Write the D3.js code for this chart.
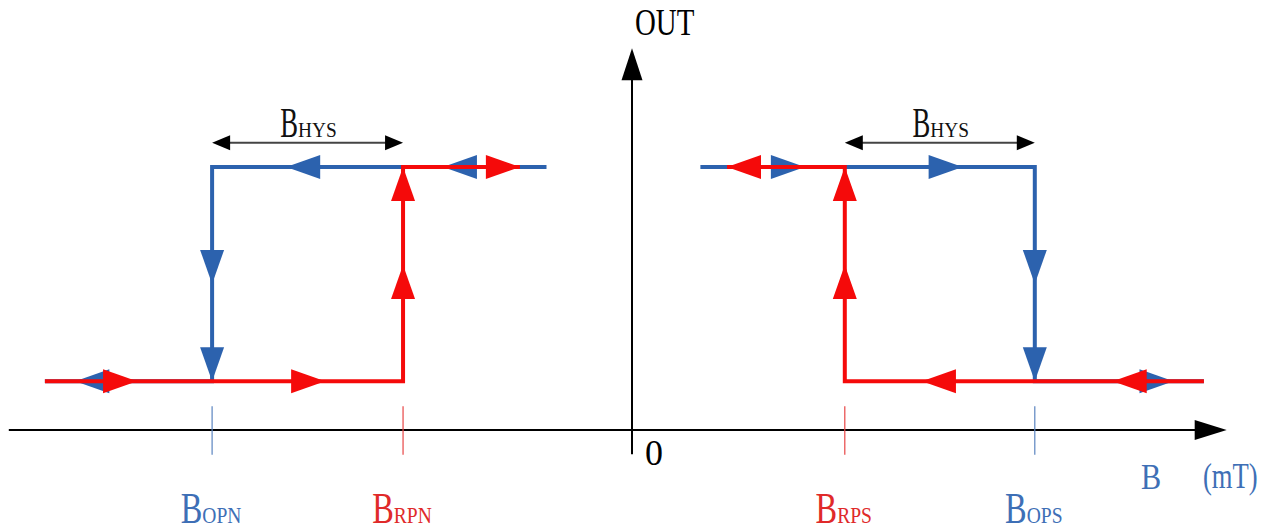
<!DOCTYPE html>
<html>
<head>
<meta charset="utf-8">
<script src="https://cdn.jsdelivr.net/npm/d3@7"></script>
<style>
  body { margin: 0; background: #fff; }
</style>
</head>
<body>
<div id="chart"></div>
<script>
// switching thresholds on the B axis (units)
var thresholdNames = ["OPN", "RPN", "RPS", "OPS"];
var thresholdValues = [-22.1, -12.05, 11.2, 21.2];
var thresholdKinds = ["op", "rp", "rp", "op"];

// output levels
var outLow = 1;
var outHigh = 5.4;

// hysteresis loops, [B, OUT]
var bluePaths = [
    [[-4.5, 5.4], [-22.1, 5.4], [-22.1, 1], [-30.9, 1]],
    [[3.6, 5.4], [21.2, 5.4], [21.2, 1], [30.1, 1]]
];
var redPaths = [
    [[-30.9, 1], [-12.05, 1], [-12.05, 5.4], [-5.9, 5.4]],
    [[30.1, 1], [11.2, 1], [11.2, 5.4], [5.0, 5.4]]
];

// arrow tips on the loops: [B, OUT, direction]
var blueArrows = [
    [-18.2, 5.4, "left"], [-9.95, 5.4, "left"], [-22.1, 3.0, "down"], [-22.1, 1, "down"], [-29.3, 1, "left"],
    [9.1, 5.4, "right"], [17.4, 5.4, "right"], [21.2, 3.0, "down"], [21.2, 1, "down"], [28.5, 1, "right"]
];
var redArrows = [
    [-5.9, 5.4, "right"], [-12.05, 3.39, "up"], [-12.05, 5.4, "up"], [-26.05, 1, "right"], [-16.15, 1, "right"],
    [5.0, 5.4, "left"], [11.2, 3.39, "up"], [11.2, 5.4, "up"], [15.26, 1, "left"], [25.3, 1, "left"]
];

// B_HYS spans and their height
var hysSpans = [[-22.1, -12.05], [11.2, 21.2]];
var hysLevel = 5.9;

// axis extents
var bAxisExtent = [-32.8, 31.3];
var outAxisExtent = [-0.5, 7.84];

var width = 1265, height = 531;
var blue = "#2c62ae", red = "#f50a0a";
var blueText = "#3e6fb6", redText = "#e02a2a";
var serif = "'Liberation Serif', 'DejaVu Serif', serif";

var svg = d3.select("#chart").append("svg")
    .attr("width", width)
    .attr("height", height);

var x = d3.scaleLinear().domain([0, 10]).range([632, 822]);
var y = d3.scaleLinear().domain([0, 1]).range([430, 381.3]);

// filled triangle with its tip at (px, py)
function triangle(px, py, dir, len, half) {
    var dx = 0, dy = 0;
    if (dir == "left") dx = -1;
    if (dir == "right") dx = 1;
    if (dir == "up") dy = -1;
    if (dir == "down") dy = 1;
    var bx = px - dx * len, by = py - dy * len;
    var pts = [[px, py], [bx - dy * half, by + dx * half], [bx + dy * half, by - dx * half]];
    return "M" + pts.map(function(p) { return p.join(","); }).join("L") + "Z";
}

// text with a main part and a subscript, horizontally squeezed
function subLabel(g, left, base, main, sub, color, o) {
    var t1 = g.append("text")
        .attr("font-family", serif)
        .attr("font-size", o.mainSize)
        .attr("fill", color)
        .attr("transform", "translate(" + left + "," + base + ") scale(" + o.mainScale + ",1)")
        .text(main);
    var w1 = t1.node().getComputedTextLength() * o.mainScale;
    var t2 = g.append("text")
        .attr("font-family", serif)
        .attr("font-size", o.subSize)
        .attr("fill", color)
        .attr("transform", "translate(" + (left + w1) + "," + base + ") scale(" + o.subScale + ",1)")
        .text(sub);
    return w1 + t2.node().getComputedTextLength() * o.subScale;
}

// centred version: draw hidden first to measure
function subLabelCentered(g, cx, base, main, sub, color, o) {
    var tmp = g.append("g").attr("opacity", 0);
    var w = subLabel(tmp, 0, 0, main, sub, color, o);
    tmp.remove();
    subLabel(g, cx - w / 2, base, main, sub, color, o);
}

/*
    Axes
*/
var axes = svg.append("g");
axes.append("line")
    .attr("x1", x(bAxisExtent[0])).attr("x2", x(bAxisExtent[1]) - 20)
    .attr("y1", y(0)).attr("y2", y(0))
    .attr("stroke", "#000").attr("stroke-width", 2);
axes.append("path")
    .attr("d", triangle(x(bAxisExtent[1]), y(0), "right", 32, 10))
    .attr("fill", "#000");
axes.append("line")
    .attr("x1", x(0)).attr("x2", x(0))
    .attr("y1", y(outAxisExtent[0])).attr("y2", y(outAxisExtent[1]) + 20)
    .attr("stroke", "#000").attr("stroke-width", 2);
axes.append("path")
    .attr("d", triangle(x(0), y(outAxisExtent[1]), "up", 32, 10.5))
    .attr("fill", "#000");

axes.append("text")
    .attr("font-family", serif)
    .attr("font-size", 38)
    .attr("transform", "translate(635,35) scale(0.76,1)")
    .text("OUT");
axes.append("text")
    .attr("font-family", serif)
    .attr("font-size", 36)
    .attr("x", x(0) + 13).attr("y", 465)
    .text("0");

axes.append("text")
    .attr("font-family", serif)
    .attr("font-size", 36)
    .attr("fill", blueText)
    .attr("transform", "translate(1141,489) scale(0.84,1)")
    .text("B");
axes.append("text")
    .attr("font-family", serif)
    .attr("font-size", 36)
    .attr("fill", blueText)
    .attr("transform", "translate(1203,488) scale(0.74,1)")
    .text("(mT)");

/*
    Threshold ticks and labels
*/
var ticks = svg.append("g");
thresholdValues.forEach(function(v, i) {
    var op = thresholdKinds[i] == "op";
    ticks.append("line")
        .attr("x1", x(v)).attr("x2", x(v))
        .attr("y1", y(0.49)).attr("y2", y(-0.51))
        .attr("stroke", op ? "#5b84c0" : "#e84545")
        .attr("stroke-width", 1.2);
    subLabelCentered(ticks, x(v) - 1, 523, "B", thresholdNames[i], op ? blueText : redText,
        {mainSize: 45, mainScale: 0.72, subSize: 23, subScale: 0.85});
});

/*
    B_HYS markers
*/
var hys = svg.append("g");
hysSpans.forEach(function(s) {
    var x1 = x(s[0]), x2 = x(s[1]), yy = y(hysLevel);
    hys.append("line")
        .attr("x1", x1 + 14).attr("x2", x2 - 14)
        .attr("y1", yy).attr("y2", yy)
        .attr("stroke", "#444").attr("stroke-width", 2);
    hys.append("path").attr("d", triangle(x1, yy, "left", 18, 7.5)).attr("fill", "#000");
    hys.append("path").attr("d", triangle(x2, yy, "right", 18, 7.5)).attr("fill", "#000");
    subLabelCentered(hys, (x1 + x2) / 2 + 1, 137, "B", "HYS", "#111",
        {mainSize: 43, mainScale: 0.62, subSize: 22, subScale: 0.88});
});

/*
    Loops: blue first, red on top
*/
var line = d3.line()
    .x(function(d) { return x(d[0]); })
    .y(function(d) { return y(d[1]); });

function drawLoops(paths, arrows, color) {
    var g = svg.append("g");
    g.selectAll("path.loop")
        .data(paths)
        .enter().append("path")
        .attr("class", "loop")
        .attr("d", line)
        .attr("fill", "none")
        .attr("stroke", color)
        .attr("stroke-width", 4)
        .attr("stroke-linejoin", "miter");
    g.selectAll("path.arrow")
        .data(arrows)
        .enter().append("path")
        .attr("class", "arrow")
        .attr("d", function(d) { return triangle(x(d[0]), y(d[1]), d[2], 34, 12); })
        .attr("fill", color);
}

drawLoops(bluePaths, blueArrows, blue);
drawLoops(redPaths, redArrows, red);
</script>
</body>
</html>
